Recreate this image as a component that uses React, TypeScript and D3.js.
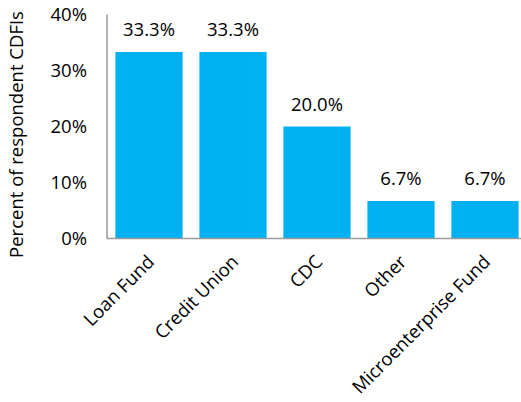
import React, { useEffect, useRef } from 'react';
import * as d3 from 'd3';

const categories = ['Loan Fund', 'Credit Union', 'CDC', 'Other', 'Microenterprise Fund'];
const values = [33.3, 33.3, 20.0, 6.7, 6.7];
const yTicks = [0, 10, 20, 30, 40];

const App: React.FC = () => {
  const svgRef = useRef<SVGSVGElement>(null);
  const width = 521;
  const height = 402;

  useEffect(() => {
    if (!svgRef.current) return;
    const svg = d3.select(svgRef.current);
    svg.selectAll('*').remove();

    const left = 107;
    const right = 527;
    const top = 14.5;
    const bottom = 238.5;
    const font = '"Open Sans", sans-serif';
    const fs = '18.5px';
    const ink = '#000';

    const x = d3.scaleBand<string>()
      .domain(categories)
      .range([left, right])
      .paddingInner(0.2)
      .paddingOuter(0.1);

    const y = d3.scaleLinear().domain([0, 40]).range([bottom, top]);

    // bars
    svg.append('g')
      .selectAll('rect')
      .data(values)
      .enter()
      .append('rect')
      .attr('x', (_, i) => x(categories[i])!)
      .attr('y', d => y(d))
      .attr('width', x.bandwidth())
      .attr('height', d => bottom - y(d))
      .attr('fill', '#00B0F0');

    // value labels
    svg.append('g')
      .selectAll('text')
      .data(values)
      .enter()
      .append('text')
      .attr('x', (_, i) => x(categories[i])! + x.bandwidth() / 2)
      .attr('y', d => y(d) - 16)
      .attr('text-anchor', 'middle')
      .style('font-family', font)
      .style('font-size', fs)
      .style('fill', ink)
      .text(d => `${d.toFixed(1)}%`);

    // axis lines
    svg.append('line')
      .attr('x1', left).attr('x2', left)
      .attr('y1', top).attr('y2', bottom)
      .attr('stroke', '#999').attr('stroke-width', 1.5);
    svg.append('line')
      .attr('x1', left).attr('x2', right)
      .attr('y1', bottom).attr('y2', bottom)
      .attr('stroke', '#999').attr('stroke-width', 1.5);

    // y tick labels
    svg.append('g')
      .selectAll('text')
      .data(yTicks)
      .enter()
      .append('text')
      .attr('x', 87)
      .attr('y', d => y(d))
      .attr('dy', '0.35em')
      .attr('text-anchor', 'end')
      .style('font-family', font)
      .style('font-size', fs)
      .style('fill', ink)
      .text(d => `${d}%`);

    // x category labels
    svg.append('g')
      .selectAll('text')
      .data(categories)
      .enter()
      .append('text')
      .attr('transform', d => `translate(${x(d)! + x.bandwidth() / 2 + 2},${bottom + 20}) rotate(-45)`)
      .attr('text-anchor', 'end')
      .attr('dy', '0.35em')
      .style('font-family', font)
      .style('font-size', fs)
      .style('fill', ink)
      .text(d => d);

    // y axis title
    svg.append('text')
      .attr('transform', `translate(17,${(top + bottom) / 2 + 8}) rotate(-90)`)
      .attr('text-anchor', 'middle')
      .attr('dy', '0.35em')
      .style('font-family', font)
      .style('font-size', fs)
      .style('fill', ink)
      .text('Percent of respondent CDFIs');
  }, []);

  return (
    <svg
      ref={svgRef}
      width={width}
      height={height}
      style={{ position: 'absolute', left: 0, top: 0, background: 'white' }}
    />
  );
};

export default App;
